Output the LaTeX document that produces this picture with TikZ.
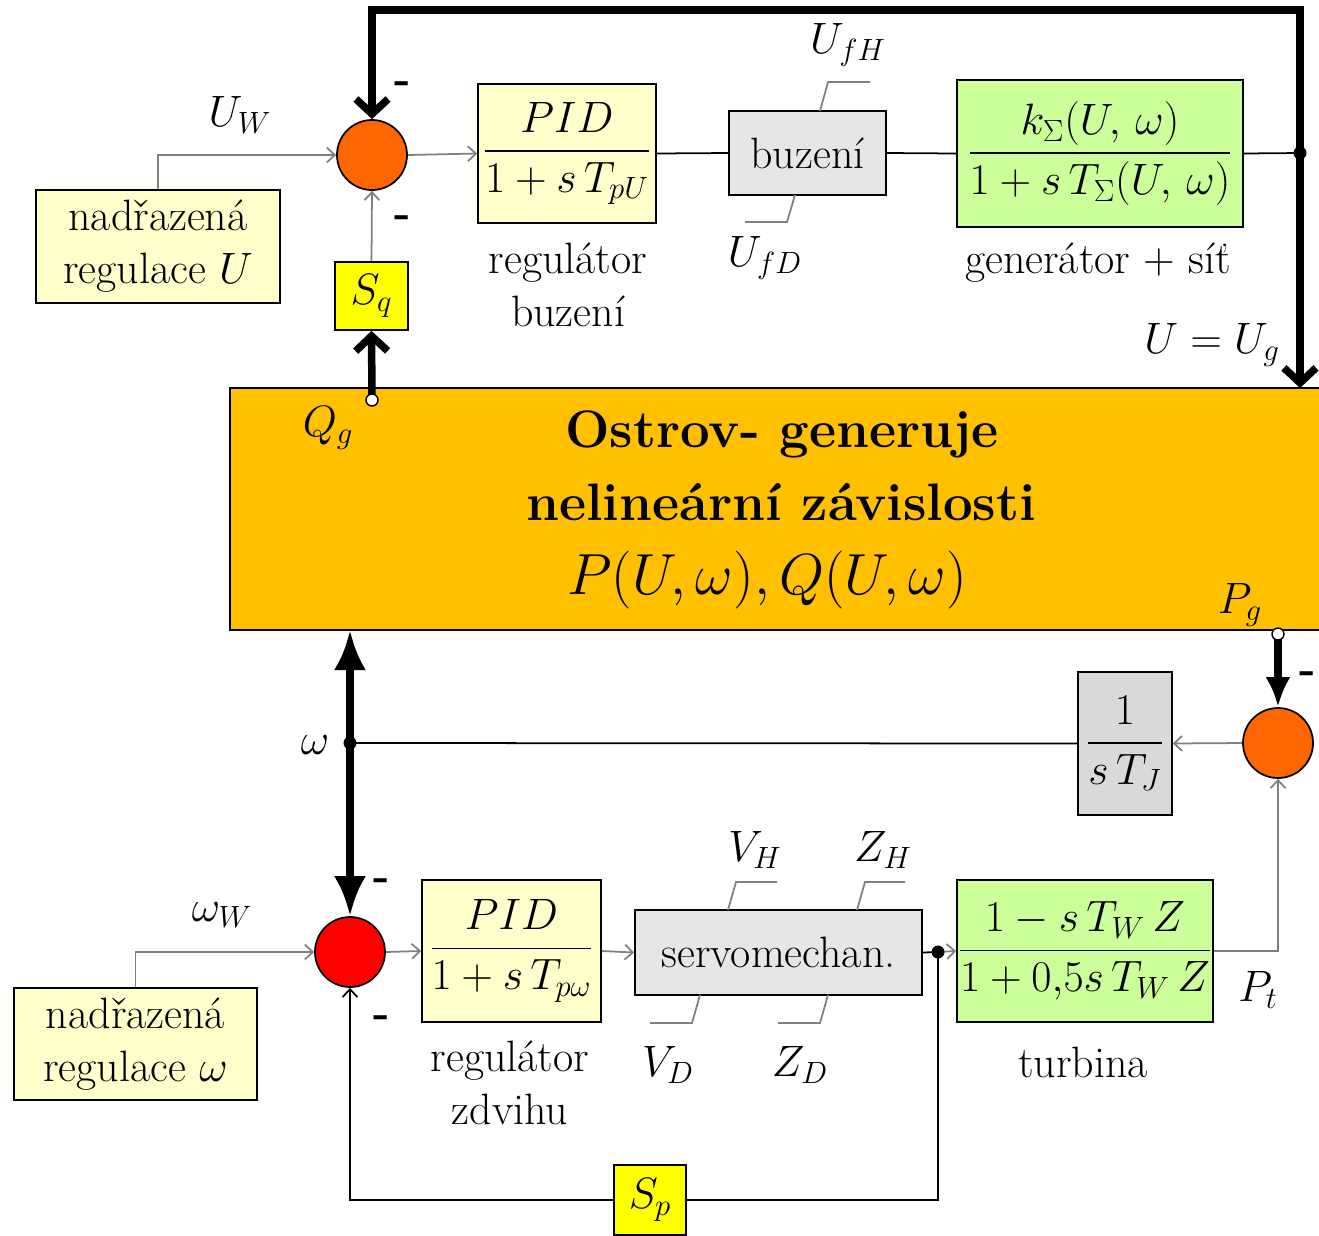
\documentclass[tikz,border=0pt]{standalone}
\usepackage{amsmath}
\usepackage{fix-cm}
\usetikzlibrary{arrows.meta}
\definecolor{pale}{HTML}{FFFFCC}
\definecolor{lgreen}{HTML}{CCFF99}
\definecolor{lgrey}{HTML}{E6E6E6}
\definecolor{mgrey}{HTML}{D9D9D9}
\definecolor{sumorange}{HTML}{FF6600}
\definecolor{sumred}{HTML}{FF0000}
\definecolor{ostrovc}{HTML}{FFC000}
\definecolor{sgain}{HTML}{FFFF00}

\begin{document}
\begin{tikzpicture}[x=0.2mm,y=-0.2mm,
  every node/.style={font=\fontsize{25}{30}\selectfont},
  blk/.style={draw,line width=1pt,inner sep=0pt,align=center},
  sumpt/.style={circle,draw,line width=1pt,minimum size=14mm,inner sep=0pt},
  sig/.style={draw=gray,line width=1pt,-{Straight Barb[length=1.6mm,width=3mm]}},
  wire/.style={line width=1pt},
  fat/.style={line width=1.5mm},
  lim/.style={draw=gray,line width=1pt},
  minus/.style={font=\bfseries\fontsize{25}{30}\selectfont},
  ttl/.style={anchor=base,inner sep=0pt,font=\bfseries\fontsize{30}{36}\selectfont},
  port/.style={circle,draw,fill=white,line width=0.8pt,minimum size=2.4mm,inner sep=0pt}]
\useasboundingbox (0,0) rectangle (1319,1235);
\clip (0,0) rectangle (1319,1235);
\fill[white] (0,0) rectangle (1319,1235);
\coordinate (top) at (0,10); \coordinate (junU) at (1300,153); \coordinate (ug) at (1300,388); \coordinate (qg) at (372,400);
\coordinate (pg) at (1278,634); \coordinate (om) at (350,630); \coordinate (omj) at (350,743); \coordinate (sd) at (938,952);

\node[blk,fill=ostrovc,minimum width=219mm,minimum height=48.4mm] (ostrov) at (777.5,509) {};
\node[ttl] (ttl1) at (782,447) {Ostrov- generuje};
\node[ttl] (ttl2) at (781,520) {nelineární závislosti};
\node[ttl,font=\fontsize{33}{40}\selectfont] (ttlm) at (767,594) {$P(U,\omega),Q(U,\omega)$};

\node[sumpt,fill=sumorange] (sum1) at (372,155) {};
\node[blk,fill=pale,minimum width=48.8mm,minimum height=22.6mm] (nadU) at (158,246.5) {nadřazená\\regulace $U$};
\node[blk,fill=sgain,minimum width=14.6mm,minimum height=13.6mm] (Sq) at (371.5,296) {$S_q$};
\node[blk,fill=pale,minimum width=35.6mm,minimum height=27.8mm] (PID1) at (567,153.5) {$\dfrac{PID}{1+s\,T_{pU}}$};
\node[blk,fill=lgrey,minimum width=31.4mm,minimum height=16.8mm] (buz) at (807.5,153) {buzení};
\node[blk,fill=lgreen,minimum width=57.2mm,minimum height=29.4mm] (gen) at (1100,153.5) {$\dfrac{k_{\Sigma}(U,\,\omega)}{1+s\,T_{\Sigma}(U,\,\omega)}$};

\node[sumpt,fill=sumorange] (sum2) at (1278,743) {};
\node[blk,fill=mgrey,minimum width=18.8mm,minimum height=28.6mm] (TJ) at (1125,743.5) {$\dfrac{1}{s\,T_J}$};
\node[sumpt,fill=sumred] (sum3) at (350,952) {};
\node[blk,fill=pale,minimum width=48.6mm,minimum height=22.4mm] (nadW) at (135.5,1044) {nadřazená\\regulace $\omega$};
\node[blk,fill=pale,minimum width=35.8mm,minimum height=28.4mm] (PID2) at (511.5,951) {$\dfrac{PID}{1+s\,T_{p\omega}}$};
\node[blk,fill=lgrey,minimum width=57.4mm,minimum height=17mm] (servo) at (778.5,952.5) {servomechan.};
\node[blk,fill=lgreen,minimum width=51.2mm,minimum height=28.4mm] (turb) at (1085,951) {$\dfrac{1-s\,T_W\,Z}{1+0{,}5s\,T_W\,Z}$};
\node[blk,fill=sgain,minimum width=14.4mm,minimum height=14mm] (Sp) at (650,1200) {$S_p$};

\draw[fat,-{Straight Barb[length=3mm,width=6.4mm]}] (junU) -- (junU |- top) -| (sum1.north);
\draw[fat,-{Straight Barb[length=3mm,width=6.4mm]}] (junU) -- (ug);
\draw[wire] (PID1.east) -- (buz.west);
\draw[wire] (buz.east) -- (gen.west);
\draw[wire] (gen.east) -- (junU);
\fill (junU) circle (1.3mm);
\draw[sig] (nadU.north) |- (sum1.west);
\draw[sig] (sum1.east) -- (PID1.west);
\draw[sig] (Sq.north) -- (sum1.south);
\draw[fat,-{Straight Barb[length=3mm,width=6.4mm]}] (qg) -- (Sq.south);
\node[port] (qgp) at (qg) {};

\draw[fat,-{Latex[length=6mm,width=5mm]}] (pg) -- (sum2.north);
\node[port] (pgp) at (pg) {};
\draw[sig] (sum2.west) -- (TJ.east);
\draw[wire] (TJ.west) -- (omj);
\draw[fat,{Latex[length=8mm,width=6.4mm]}-{Latex[length=8mm,width=6.4mm]}] (om) -- (sum3.north);
\fill (omj) circle (1.3mm);
\draw[sig] (nadW.north) |- (sum3.west);
\draw[sig] (sum3.east) -- (PID2.west);
\draw[sig] (PID2.east) -- (servo.west);
\draw[wire] (servo.east) -- (sd);
\draw[sig] (sd) -- (turb.west);
\fill (sd) circle (1.3mm);
\draw[sig] (turb.east) -| (sum2.south);
\draw[wire] (sd) |- (Sp.east);
\draw[sig,draw=black] (Sp.west) -| (sum3.south);

\draw[lim] (820,111) -- (828,82) -- (870,82);
\draw[lim] (795,195) -- (787,222) -- (745,222);
\draw[lim] (728,910) -- (736,882) -- (777,882);
\draw[lim] (857,910) -- (865,882) -- (905,882);
\draw[lim] (700,995) -- (692,1023) -- (650,1023);
\draw[lim] (828,995) -- (820,1023) -- (778,1023);

\node (lUW) at (240,115) {$U_W$};
\node (lUfH) at (848,45) {$U_{fH}$};
\node (lUfD) at (765,258) {$U_{fD}$};
\node[align=center] (lregb) at (568,285) {regulátor\\buzení};
\node (lgen) at (1098,263) {generátor + síť};
\node (lUg) at (1212,345) {$U=U_g$};
\node (lQg) at (328,428) {$Q_g$};
\node (lPg) at (1240,605) {$P_g$};
\node (lom) at (315,745) {$\omega$};
\node (lomW) at (222,915) {$\omega_W$};
\node (lVH) at (755,850) {$V_H$};
\node (lZH) at (883,850) {$Z_H$};
\node (lVD) at (668,1065) {$V_D$};
\node (lZD) at (800,1065) {$Z_D$};
\node (lPt) at (1258,990) {$P_t$};
\node (lturb) at (1083,1062) {turbina};
\node[align=center] (lregz) at (510,1083) {regulátor\\zdvihu};
\node[minus] (m1) at (403,88) {-};
\node[minus] (m2) at (403,222) {-};
\node[minus] (m3) at (1308,678) {-};
\node[minus] (m4) at (382,885) {-};
\node[minus] (m5) at (382,1022) {-};
\end{tikzpicture}
\end{document}
